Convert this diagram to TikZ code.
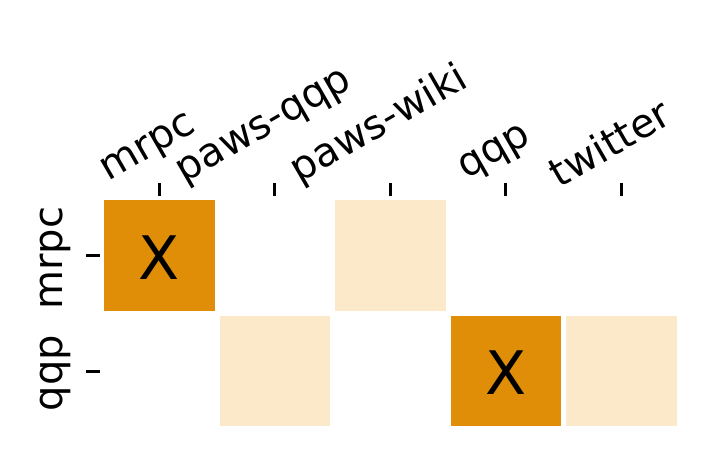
\documentclass[tikz,border=0pt]{standalone}
\usepackage{fontspec}
\setmainfont{DejaVu Sans}
\definecolor{dark}{HTML}{E08E07}
\definecolor{light}{HTML}{FCE9CA}
\begin{document}
\begin{tikzpicture}[x=1pt,y=-1pt,
  lab/.style={font=\fontsize{40}{42}\selectfont,inner sep=0pt},
  xl/.style={lab,rotate=30,anchor=south west},
  yl/.style={lab,rotate=90,anchor=center},
  tick/.style={line width=3pt}]
\useasboundingbox (0,0) rectangle (720,458);
\fill[dark] (104,200) rectangle (215,311);
\fill[light] (335,200) rectangle (446,311);
\fill[light] (220,316) rectangle (330,426);
\fill[dark] (451,316) rectangle (561,426);
\fill[light] (566,316) rectangle (677,426);
\node[lab,font=\fontsize{60}{62}\selectfont] (x1) at (159.5,258) {X};
\node[lab,font=\fontsize{60}{62}\selectfont] (x2) at (506,373) {X};
\foreach \x in {159,274,390,505,621} \draw[tick] (\x,183) -- (\x,196);
\foreach \y in {255,371} \draw[tick] (86,\y) -- (100,\y);
\node[xl] (c1) at (113,189) {mrpc};
\node[xl] (c2) at (189,191) {paws-qqp};
\node[xl] (c3) at (304,191) {paws-wiki};
\node[xl] (c4) at (471,187) {qqp};
\node[xl] (c5) at (560,189) {twitter};
\node[yl] (r1) at (55,258) {mrpc};
\node[yl] (r2) at (55,373) {qqp};
\end{tikzpicture}
\end{document}
